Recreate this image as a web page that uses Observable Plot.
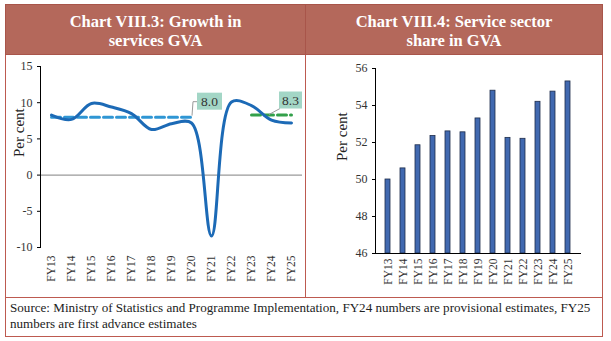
<!DOCTYPE html>
<html>
<head>
<meta charset="utf-8">
<script src="https://cdn.jsdelivr.net/npm/d3@7"></script>
<script src="https://cdn.jsdelivr.net/npm/@observablehq/plot@0.6"></script>
<style>
  html, body { margin: 0; padding: 0; background: #fff; }
  body { width: 611px; height: 341px; position: relative; overflow: hidden; font-family: "Liberation Serif", serif; }
  .frame { position: absolute; left: 5px; top: 4px; width: 598px; height: 333px; border: 1px solid #bd5a50; box-sizing: border-box; }
  .head { position: absolute; top: 4px; height: 51px; background: #b4685b; color: #fff; font-weight: bold; font-size: 16.5px; line-height: 19px; display: flex; align-items: center; justify-content: center; text-align: center; box-sizing: border-box; border: 1px solid #a8554a; padding-top: 2px; }
  .vline { position: absolute; left: 305px; top: 55px; width: 1px; height: 243px; background: #bd5a50; }
  .hline { position: absolute; left: 5px; top: 297px; width: 598px; height: 1px; background: #bd5a50; }
  .src { position: absolute; left: 10px; top: 300px; font-size: 13.1px; line-height: 16px; color: #222; white-space: nowrap; }
  #left { position: absolute; left: 5px; top: 53px; }
  #right { position: absolute; left: 306px; top: 53px; }
</style>
</head>
<body>
<div class="frame"></div>
<div class="head" style="left:5px;width:301px;">Chart VIII.3: Growth in<br>services GVA</div>
<div class="head" style="left:305px;width:298px;">Chart VIII.4: Service sector<br>share in GVA</div>
<div class="vline"></div>
<div class="hline"></div>
<div id="left"></div>
<div id="right"></div>
<div class="src">Source: Ministry of Statistics and Programme Implementation, FY24 numbers are provisional estimates, FY25<br>numbers are first advance estimates</div>
<script>
// ---- data ----
const years = ["FY13","FY14","FY15","FY16","FY17","FY18","FY19","FY20","FY21","FY22","FY23","FY24","FY25"];
const growth = [8.3, 7.7, 9.9, 9.4, 8.5, 6.3, 7.1, 7.2, -8.4, 10.1, 9.6, 7.6, 7.2];
const share = [50.0, 50.6, 51.85, 52.35, 52.6, 52.55, 53.3, 54.8, 52.25, 52.2, 54.2, 54.75, 55.3];
const preAvgYears = ["FY13", "FY20"];
const preAvg = 8.0;
const postAvgYears = ["FY23", "FY25"];
const postAvg = 8.3;
const growthTicks = [-10, -5, 0, 5, 10, 15];
const shareTicks = [46, 48, 50, 52, 54, 56];

const growthRows = years.map((fy, i) => ({fy, v: growth[i]}));
const shareRows = years.map((fy, i) => ({fy, v: share[i]}));

const font = "Liberation Serif";

function tag(fy, v, label, kind) {
  return (index, scales) => {
    const px = scales.x(fy), py = scales.y(v);
    const g = d3.create("svg:g");
    let bx, by, bw = 25, bh = 17;
    if (kind === "up") {
      g.append("path").attr("d", `M${px+1},${py-1}L${px+2},${py-15}L${px+6},${py-15}`)
        .attr("fill", "none").attr("stroke", "#9a9a9a").attr("stroke-width", 1);
      bx = px + 6; by = py - 24;
    } else {
      g.append("path").attr("d", `M${px-2},${py}L${px+9},${py-6}`)
        .attr("fill", "none").attr("stroke", "#9a9a9a").attr("stroke-width", 1);
      bx = px + 8; by = py - 23; bw = 23;
    }
    g.append("rect").attr("x", bx).attr("y", by).attr("width", bw).attr("height", bh).attr("fill", "#a3d6c6");
    g.append("text").attr("x", bx + bw/2).attr("y", by + bh/2 + 4.5).attr("text-anchor", "middle")
      .attr("font-family", font).attr("font-size", 13.5).attr("fill", "#333").text(label);
    return g.node();
  };
}

const plain = d => String(d);

const left = Plot.plot({
  width: 300, height: 244,
  marginLeft: 35, marginRight: 3, marginTop: 13, marginBottom: 50,
  style: {fontFamily: font, background: "transparent", overflow: "visible", color: "#333"},
  x: {type: "point", domain: years, padding: 0.55},
  y: {domain: [-10, 15]},
  marks: [
    Plot.ruleY([0], {stroke: "#808080", strokeWidth: 1}),
    Plot.frame({anchor: "left", stroke: "#000"}),
    Plot.axisY(growthTicks, {tickSize: 3, tickPadding: 5, label: null, fontSize: 12, stroke: "#000", tickFormat: plain}),
    Plot.axisX(years, {tickRotate: -90, tickSize: 0, tickPadding: 8, label: null, fontSize: 11.5}),
    Plot.text(["Per cent"], {frameAnchor: "left", rotate: -90, dx: -21, fontSize: 15, fill: "#222"}),
    Plot.line(preAvgYears.map(fy => ({fy, v: preAvg})), {x: "fy", y: "v", stroke: "#2f96d4", strokeWidth: 3, strokeDasharray: "9,4"}),
    Plot.line(postAvgYears.map(fy => ({fy, v: postAvg})), {x: "fy", y: "v", stroke: "#33a04a", strokeWidth: 3, strokeDasharray: "9,4"}),
    Plot.line(growthRows, {x: "fy", y: "v", stroke: "#1c6ab6", strokeWidth: 3, curve: "catmull-rom"}),
    tag("FY20", preAvg, preAvg.toFixed(1), "up"),
    tag("FY24", postAvg, postAvg.toFixed(1), "side")
  ]
});
document.getElementById("left").appendChild(left);

const right = Plot.plot({
  width: 296, height: 244,
  marginLeft: 69, marginRight: 22, marginTop: 15, marginBottom: 44,
  style: {fontFamily: font, background: "transparent", overflow: "visible", color: "#333"},
  x: {type: "band", domain: years, paddingInner: 0.66, paddingOuter: 0.45},
  y: {domain: [46, 56], clamp: true},
  marks: [
    Plot.barY(shareRows, {x: "fy", y: "v", fill: "#4169b0", stroke: "#1d2c4a", strokeWidth: 0.8}),
    Plot.frame({anchor: "left", stroke: "#000"}),
    Plot.frame({anchor: "bottom", stroke: "#000"}),
    Plot.axisY(shareTicks, {tickSize: 3, tickPadding: 5, label: null, fontSize: 12, stroke: "#000", tickFormat: plain}),
    Plot.axisX(years, {tickRotate: -90, tickSize: 0, tickPadding: 5, label: null, fontSize: 11.5}),
    Plot.text(["Per cent"], {frameAnchor: "left", rotate: -90, dx: -33, fontSize: 15, fill: "#222"})
  ]
});
document.getElementById("right").appendChild(right);
</script>
</body>
</html>
